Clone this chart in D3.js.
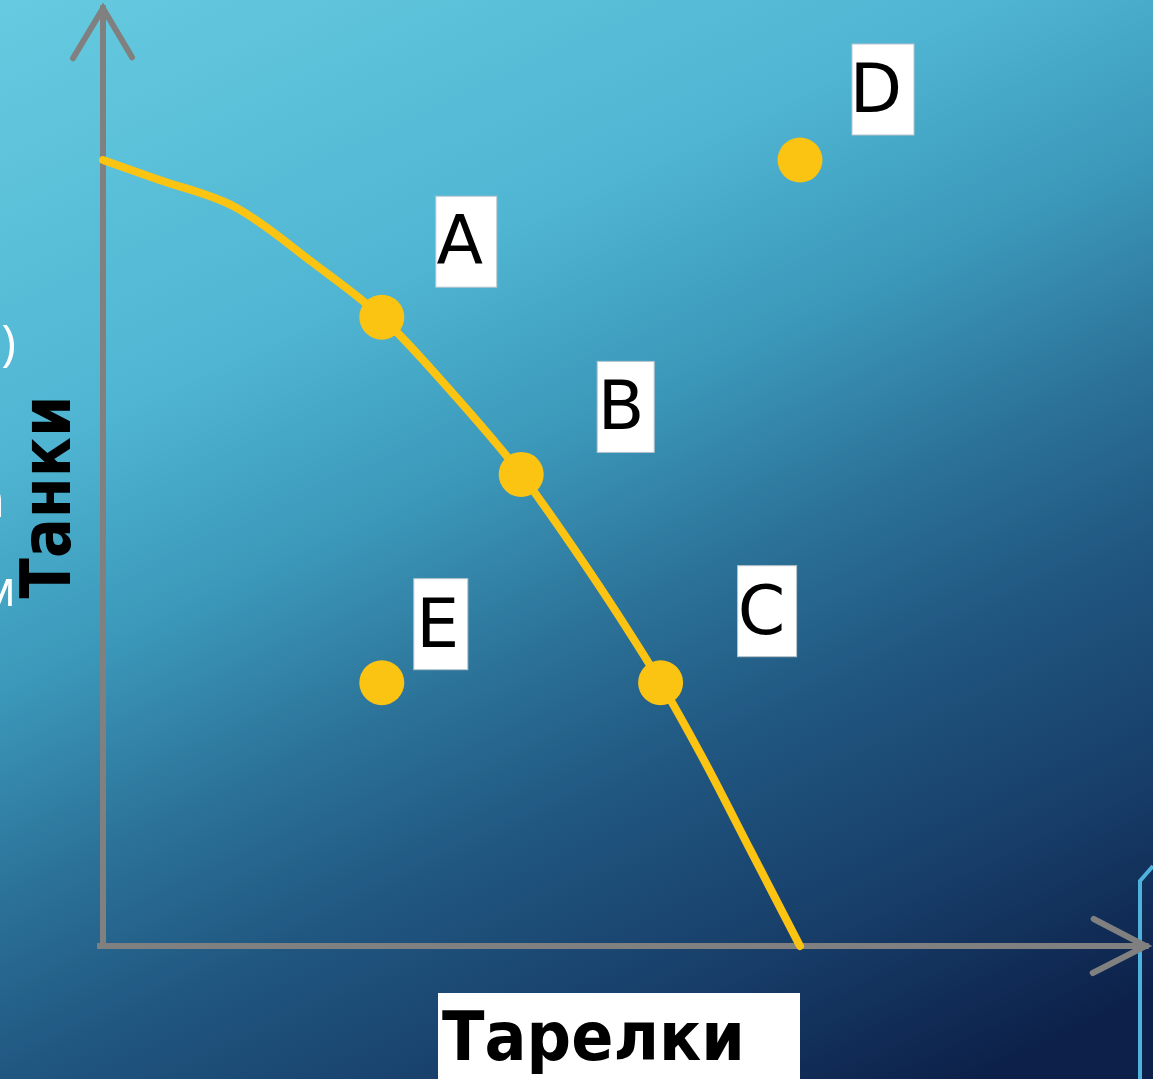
<!DOCTYPE html>
<html>
<head>
<meta charset="utf-8">
<script src="https://cdn.jsdelivr.net/npm/d3@7"></script>
<style>
body { margin: 0; overflow: hidden; background: #0b1e48; }
</style>
</head>
<body>
<svg id="chart"></svg>
<script>
'use strict';

// production possibilities curve (tarelki -> x, tanki -> y)
var curveTarelki = [0, 8, 19, 30, 40, 50, 60, 68, 74, 80, 86, 93, 100];
var curveTanki   = [100, 97.5, 94, 87, 80, 70.5, 60, 50, 42, 33.5, 24, 12, 0];

// marked points
var pointNames   = ['A', 'B', 'C', 'D', 'E'];
var pointTarelki = [40, 60, 80, 100, 40];
var pointTanki   = [80, 60, 33.5, 100, 33.5];

var xTitle = 'Тарелки';
var yTitle = 'Танки';
// bits of slide text cut off at the left edge
var sideText = [')', 'а', 'м'];

var W = 1153, H = 1079;
var yellow = '#fbc312';
var axisGrey = '#808080';

var svg = d3.select('#chart')
        .attr('width', W)
        .attr('height', H);

// background gradient, light cyan top-left to navy bottom-right
var grad = svg.append('defs').append('linearGradient')
        .attr('id', 'bg')
        .attr('gradientUnits', 'userSpaceOnUse')
        .attr('x1', 0).attr('y1', 0)
        .attr('x2', 590).attr('y2', 1264);
[[0, '#66cbe0'], [0.3, '#4fb5d2'], [0.45, '#3b98ba'], [0.58, '#2c7399'],
 [0.7, '#205781'], [0.85, '#173e69'], [1, '#0c2049']].forEach(function(s) {
        grad.append('stop').attr('offset', s[0]).attr('stop-color', s[1]);
});
svg.append('rect').attr('width', W).attr('height', H).attr('fill', 'url(#bg)');

// cut-off white text on the left
var sideY = [360, 517, 606];
var sideX = [16, 5, 16];
svg.selectAll('.side')
        .data(sideText)
        .enter().append('text')
        .attr('class', 'side')
        .attr('x', function(d, i) { return sideX[i]; })
        .attr('y', function(d, i) { return sideY[i]; })
        .attr('text-anchor', 'end')
        .style('font-family', 'Open Sans, sans-serif')
        .style('font-size', '50px')
        .attr('fill', '#ffffff')
        .text(function(d) { return d; });

// decorative blue frame piece, bottom right
svg.append('polyline')
        .attr('points', '1153,866 1140,881 1140,1079')
        .attr('fill', 'none')
        .attr('stroke', '#4fb2dc')
        .attr('stroke-width', 4);

// scales
var x = d3.scaleLinear().domain([0, 100]).range([103, 800]);
var y = d3.scaleLinear().domain([0, 100]).range([946, 160]);
var xEnd = 149.6, yEnd = 119.3;

// axes with open arrow heads
var axes = svg.append('g')
        .attr('stroke', axisGrey)
        .attr('stroke-width', 6)
        .attr('fill', 'none')
        .attr('stroke-linecap', 'square');

axes.append('line')
        .attr('x1', x(0)).attr('y1', y(0))
        .attr('x2', x(0)).attr('y2', y(yEnd));
axes.append('polyline')
        .attr('stroke-linecap', 'round')
        .attr('stroke-linejoin', 'miter')
        .attr('points', [[x(0) - 30, y(yEnd) + 50], [x(0), y(yEnd)], [x(0) + 29, y(yEnd) + 49]].join(' '));

axes.append('line')
        .attr('x1', x(0) - 3).attr('y1', y(0))
        .attr('x2', x(xEnd)).attr('y2', y(0));
axes.append('polyline')
        .attr('stroke-linecap', 'round')
        .attr('points', [[x(xEnd) - 52, y(0) - 27], [x(xEnd), y(0)], [x(xEnd) - 53, y(0) + 27]].join(' '));

// the curve
var curveData = curveTarelki.map(function(d, i) { return [d, curveTanki[i]]; });
var line = d3.line()
        .x(function(d) { return x(d[0]); })
        .y(function(d) { return y(d[1]); })
        .curve(d3.curveMonotoneX);

svg.append('path')
        .datum(curveData)
        .attr('d', line)
        .attr('fill', 'none')
        .attr('stroke', yellow)
        .attr('stroke-width', 8)
        .attr('stroke-linecap', 'round');

// points
var pts = pointNames.map(function(n, i) {
        return {name: n, tar: pointTarelki[i], tan: pointTanki[i]};
});

svg.selectAll('.pt')
        .data(pts)
        .enter().append('circle')
        .attr('class', 'pt')
        .attr('cx', function(d) { return x(d.tar); })
        .attr('cy', function(d) { return y(d.tan); })
        .attr('r', 22.5)
        .attr('fill', yellow);

// label boxes, offset from each point: [dx, dy, box width]
var labelPos = {A: [54, -121, 61], B: [76, -113, 57], C: [77, -117, 59], D: [52, -116, 62], E: [32, -104, 54]};
var boxH = 91;

var lab = svg.selectAll('.lab')
        .data(pts)
        .enter().append('g')
        .attr('class', 'lab')
        .attr('transform', function(d) {
            var o = labelPos[d.name];
            return 'translate(' + (x(d.tar) + o[0]) + ',' + (y(d.tan) + o[1]) + ')';
        });

lab.append('rect')
        .attr('width', function(d) { return labelPos[d.name][2]; })
        .attr('height', boxH)
        .attr('fill', '#ffffff')
        .attr('stroke', '#b8c4cc')
        .attr('stroke-width', 1);

lab.append('text')
        .attr('x', 24)
        .attr('y', 68)
        .attr('text-anchor', 'middle')
        .style('font-family', 'DejaVu Sans, sans-serif')
        .style('font-size', '68px')
        .attr('fill', '#000000')
        .text(function(d) { return d.name; });

// x title in a white box
svg.append('rect')
        .attr('x', 438).attr('y', 993)
        .attr('width', 362).attr('height', 100)
        .attr('fill', '#ffffff');
svg.append('text')
        .attr('x', 442)
        .attr('y', 1060)
        .style('font-family', 'DejaVu Sans, sans-serif')
        .style('font-weight', 'bold')
        .style('font-size', '68px')
        .attr('fill', '#000000')
        .attr('textLength', 303)
        .attr('lengthAdjust', 'spacingAndGlyphs')
        .text(xTitle);

// y title, vertical
svg.append('text')
        .attr('transform', 'translate(70,497) rotate(-90)')
        .attr('text-anchor', 'middle')
        .style('font-family', 'DejaVu Sans, sans-serif')
        .style('font-weight', 'bold')
        .style('font-size', '70px')
        .attr('fill', '#000000')
        .attr('textLength', 203)
        .attr('lengthAdjust', 'spacingAndGlyphs')
        .text(yTitle);
</script>
</body>
</html>
